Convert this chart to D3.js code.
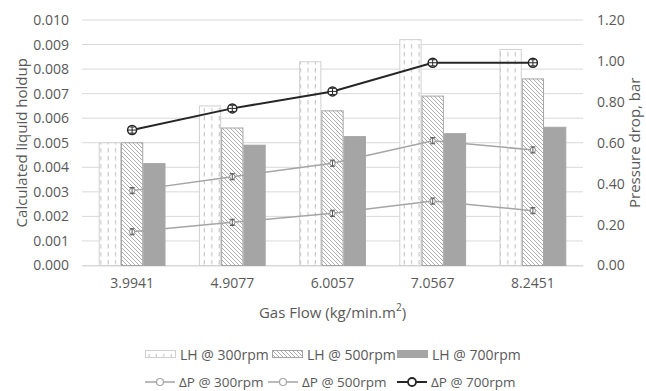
<!DOCTYPE html>
<html>
<head>
<meta charset="utf-8">
<script src="https://cdn.jsdelivr.net/npm/d3@7"></script>
<style>
  body { margin: 0; background: #fff; }
  svg text { font-family: "Open Sans", "Noto Sans", sans-serif; fill: #595959; }
</style>
</head>
<body>
<div id="chart"></div>
<script>
const categories = ['3.9941', '4.9077', '6.0057', '7.0567', '8.2451'];
const lhSeries = ['LH @ 300rpm', 'LH @ 500rpm', 'LH @ 700rpm'];
const lh300 = [0.0050, 0.0065, 0.0083, 0.0092, 0.0088];
const lh500 = [0.0050, 0.0056, 0.0063, 0.0069, 0.0076];
const lh700 = [0.00415, 0.0049, 0.00525, 0.00537, 0.00563];
const dpSeries = ['ΔP @ 300rpm', 'ΔP @ 500rpm', 'ΔP @ 700rpm'];
const dp300 = [0.165, 0.211, 0.255, 0.315, 0.268];
const dp500 = [0.366, 0.434, 0.50, 0.61, 0.565];
const dp700 = [0.662, 0.768, 0.851, 0.991, 0.991];
const dpError = 0.015;
const leftTicks = [0, 0.001, 0.002, 0.003, 0.004, 0.005, 0.006, 0.007, 0.008, 0.009, 0.010];
const rightTicks = [0, 0.2, 0.4, 0.6, 0.8, 1.0, 1.2];

const width = 646, height = 391;
const margin = { top: 20, right: 63, bottom: 125.5, left: 82 };
const plotW = width - margin.left - margin.right;
const plotH = height - margin.top - margin.bottom;

const svg = d3.select('#chart').append('svg')
  .attr('width', width)
  .attr('height', height);

// Patterns for the bars
const defs = svg.append('defs');
const pDash = defs.append('pattern')
  .attr('id', 'dashV')
  .attr('patternUnits', 'userSpaceOnUse')
  .attr('width', 7.4).attr('height', 8);
pDash.append('rect').attr('width', 7.4).attr('height', 8).attr('fill', '#fff');
pDash.append('line')
  .attr('x1', 4).attr('x2', 4).attr('y1', 0).attr('y2', 4.5)
  .attr('stroke', '#bfbfbf').attr('stroke-width', 1);

const pHatch = defs.append('pattern')
  .attr('id', 'hatch')
  .attr('patternUnits', 'userSpaceOnUse')
  .attr('width', 4).attr('height', 4);
pHatch.append('rect').attr('width', 4).attr('height', 4).attr('fill', '#fff');
pHatch.append('path')
  .attr('d', 'M-1,-1 L5,5 M-1,3 L1,5 M3,-1 L5,1')
  .attr('stroke', '#a3a3a3').attr('stroke-width', 0.9);

const fills = ['url(#dashV)', 'url(#hatch)', '#a5a5a5'];
const strokes = ['#d0d0d0', '#a5a5a5', '#a5a5a5'];
const lineColors = ['#a5a5a5', '#a5a5a5', '#262626'];
const lineWidths = [1.5, 1.5, 2];

const g = svg.append('g')
  .attr('transform', `translate(${margin.left},${margin.top})`);

const x = d3.scaleBand().domain(categories).range([0, plotW]);
const barW = x.bandwidth() / 4.5;
const x1 = d3.scaleBand().domain(lhSeries).range([0, barW * 3]);
const barOffset = (x.bandwidth() - barW * 3) / 2;

const yL = d3.scaleLinear().domain([0, 0.010]).range([plotH, 0]);
const yR = d3.scaleLinear().domain([0, 1.2]).range([plotH, 0]);

// Gridlines
g.append('g')
  .selectAll('line')
  .data(leftTicks)
  .join('line')
  .attr('x1', 0).attr('x2', plotW)
  .attr('y1', d => yL(d)).attr('y2', d => yL(d))
  .attr('stroke', '#d9d9d9').attr('stroke-width', 1);

// Left axis
const axL = g.append('g')
  .call(d3.axisLeft(yL).tickValues(leftTicks).tickFormat(d3.format('.3f')).tickSize(0).tickPadding(13));
axL.select('.domain').remove();
axL.selectAll('text').style('font-size', '14px').style('fill', '#595959');

// Right axis
const axR = g.append('g')
  .attr('transform', `translate(${plotW},0)`)
  .call(d3.axisRight(yR).tickValues(rightTicks).tickFormat(d3.format('.2f')).tickSize(0).tickPadding(14));
axR.select('.domain').remove();
axR.selectAll('text').style('font-size', '14px').style('fill', '#595959');

// Bottom axis
const axB = g.append('g')
  .attr('transform', `translate(0,${plotH})`)
  .call(d3.axisBottom(x).tickSize(0).tickPadding(13));
axB.select('.domain').attr('stroke', '#d9d9d9');
axB.selectAll('text').style('font-size', '14px').style('fill', '#595959');

// Bars
const lhData = [lh300, lh500, lh700];
lhData.forEach((vals, si) => {
  g.append('g')
    .selectAll('rect')
    .data(vals)
    .join('rect')
    .attr('x', (d, i) => x(categories[i]) + barOffset + x1(lhSeries[si]) + 0.5)
    .attr('y', d => yL(d))
    .attr('width', x1.bandwidth() - 1)
    .attr('height', d => plotH - yL(d))
    .attr('fill', fills[si])
    .attr('stroke', strokes[si])
    .attr('stroke-width', 1);
});

// Lines with error bars
const dpData = [dp300, dp500, dp700];
const cx = c => x(c) + x.bandwidth() / 2;
dpData.forEach((vals, si) => {
  const line = d3.line()
    .x((d, i) => cx(categories[i]))
    .y(d => yR(d));
  g.append('path')
    .datum(vals)
    .attr('fill', 'none')
    .attr('stroke', lineColors[si])
    .attr('stroke-width', lineWidths[si])
    .attr('d', line);

  const r = si === 2 ? 4.5 : 2.6;
  const pts = g.append('g').selectAll('g')
    .data(vals)
    .join('g')
    .attr('transform', (d, i) => `translate(${cx(categories[i])},0)`);
  pts.append('circle')
    .attr('cy', d => yR(d))
    .attr('r', r)
    .attr('fill', '#fff')
    .attr('stroke', si === 2 ? '#262626' : '#8c8c8c')
    .attr('stroke-width', si === 2 ? 1.5 : 1);
  const ec = si === 2 ? '#262626' : '#595959';
  pts.append('line')
    .attr('x1', 0).attr('x2', 0)
    .attr('y1', d => yR(d + dpError)).attr('y2', d => yR(d - dpError))
    .attr('stroke', ec).attr('stroke-width', 1);
  [1, -1].forEach(s => {
    pts.append('line')
      .attr('x1', -2.5).attr('x2', 2.5)
      .attr('y1', d => yR(d + s * dpError)).attr('y2', d => yR(d + s * dpError))
      .attr('stroke', ec).attr('stroke-width', 1);
  });
  if (si === 2) {
    pts.append('line')
      .attr('x1', -4.5).attr('x2', 4.5)
      .attr('y1', d => yR(d)).attr('y2', d => yR(d))
      .attr('stroke', ec).attr('stroke-width', 1);
  }
});

// Axis titles
svg.append('text')
  .attr('transform', `translate(21,${margin.top + plotH / 2}) rotate(-90)`)
  .attr('text-anchor', 'middle')
  .attr('dominant-baseline', 'central')
  .style('font-size', '15px')
  .text('Calculated liquid holdup');

svg.append('text')
  .attr('transform', `translate(634,${margin.top + plotH / 2}) rotate(-90)`)
  .attr('text-anchor', 'middle')
  .attr('dominant-baseline', 'central')
  .style('font-size', '15px')
  .text('Pressure drop, bar');

const xt = svg.append('text')
  .attr('x', margin.left + plotW / 2)
  .attr('y', 312)
  .attr('text-anchor', 'middle')
  .attr('dominant-baseline', 'central')
  .style('font-size', '15px');
xt.append('tspan').text('Gas Flow (kg/min.m');
xt.append('tspan').attr('dy', -5).style('font-size', '10px').text('2');
xt.append('tspan').attr('dy', 5).text(')');

// Legend
const legX1 = [145, 272, 397];
const leg1 = svg.append('g').selectAll('g')
  .data(lhSeries)
  .join('g')
  .attr('transform', (d, i) => `translate(${legX1[i]},354)`);
leg1.append('rect')
  .attr('x', 0.5).attr('y', -3.5).attr('width', 30).attr('height', 7)
  .attr('fill', (d, i) => fills[i])
  .attr('stroke', (d, i) => strokes[i]);
leg1.append('text')
  .attr('x', 35).attr('y', 0)
  .attr('dominant-baseline', 'central')
  .style('font-size', '14px')
  .text(d => d);

const legX2 = [145, 268, 397];
const leg2 = svg.append('g').selectAll('g')
  .data(dpSeries)
  .join('g')
  .attr('transform', (d, i) => `translate(${legX2[i]},382)`);
leg2.append('line')
  .attr('x1', 0).attr('x2', 30).attr('y1', 0).attr('y2', 0)
  .attr('stroke', (d, i) => lineColors[i])
  .attr('stroke-width', (d, i) => lineWidths[i]);
leg2.append('circle')
  .attr('cx', 15).attr('cy', 0)
  .attr('r', (d, i) => i === 2 ? 4 : 3.5)
  .attr('fill', '#fff')
  .attr('stroke', (d, i) => lineColors[i])
  .attr('stroke-width', (d, i) => i === 2 ? 1.8 : 1.2);
leg2.append('text')
  .attr('x', 34).attr('y', 0)
  .attr('dominant-baseline', 'central')
  .style('font-size', '13.5px')
  .text(d => d);
</script>
</body>
</html>
